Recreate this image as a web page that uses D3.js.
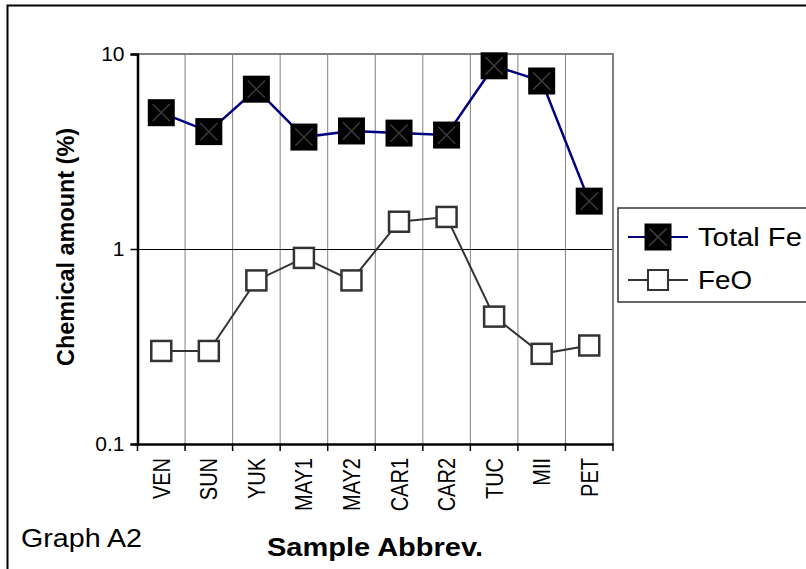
<!DOCTYPE html>
<html>
<head>
<meta charset="utf-8">
<script src="https://cdn.jsdelivr.net/npm/d3@7"></script>
<style>
    body { margin: 0; background: #fff; }
    text { font-family: Arial, "Liberation Sans", sans-serif; }
</style>
</head>
<body>
<div id="chart-view"></div>
<script>
const samples = ["VEN", "SUN", "YUK", "MAY1", "MAY2", "CAR1", "CAR2", "TUC", "MII", "PET"];
const totalFe = [5.0, 4.0, 6.6, 3.75, 4.03, 3.93, 3.84, 8.7, 7.27, 1.76];
const feO = [0.30, 0.30, 0.69, 0.90, 0.69, 1.38, 1.46, 0.45, 0.29, 0.32];
const yTicks = [0.1, 1, 10];
const yTickLabels = ["0.1", "1", "10"];

const width = 806, height = 569;
const plot = { left: 137.5, right: 613, top: 54, bottom: 444 };

let svg = d3.select("#chart-view")
            .append("svg")
            .attr("width", width)
            .attr("height", height);

// outer frame
svg.append("rect")
    .attr("x", 7.5).attr("y", 5.5)
    .attr("width", 820).attr("height", 600)
    .attr("fill", "#fff")
    .attr("stroke", "#000")
    .attr("stroke-width", 2);

let x = d3.scaleBand()
            .domain(samples)
            .range([plot.left, plot.right]);

let y = d3.scaleLog()
            .domain([0.1, 10])
            .range([plot.bottom, plot.top]);

// vertical grid lines between categories
svg.append("g")
    .selectAll("line")
    .data(samples.slice(1))
    .enter()
    .append("line")
    .attr("x1", (d) => x(d)).attr("x2", (d) => x(d))
    .attr("y1", plot.top).attr("y2", plot.bottom)
    .attr("stroke", "#808080")
    .attr("stroke-width", 1);

// horizontal grid at 1
svg.append("line")
    .attr("x1", plot.left).attr("x2", plot.right)
    .attr("y1", Math.round(y(1)) + 0.5).attr("y2", Math.round(y(1)) + 0.5)
    .attr("stroke", "#000")
    .attr("stroke-width", 1.2);

// plot area border top / right
svg.append("path")
    .attr("d", `M${plot.left},${plot.top}H${plot.right}V${plot.bottom}`)
    .attr("fill", "none")
    .attr("stroke", "#808080")
    .attr("stroke-width", 2);

// y axis
let yAxis = d3.axisLeft(y)
                .tickValues(yTicks)
                .tickFormat((d, i) => yTickLabels[i])
                .tickSize(7)
                .tickPadding(6);

let yg = svg.append("g")
            .attr("transform", `translate(${plot.left},0)`)
            .call(yAxis);
yg.select(".domain").attr("stroke", "#000").attr("stroke-width", 2.5);
yg.selectAll(".tick line").attr("stroke", "#000").attr("stroke-width", 1.5);
yg.selectAll(".tick text")
    .attr("font-size", 21)
    .attr("fill", "#000");

// x axis
let xAxis = d3.axisBottom(x)
                .tickSize(0)
                .tickSizeOuter(0);

let xg = svg.append("g")
            .attr("transform", `translate(0,${plot.bottom})`)
            .call(xAxis);
xg.select(".domain").attr("stroke", "#000").attr("stroke-width", 2.5);
xg.selectAll(".tick text")
    .attr("font-size", 20)
    .attr("fill", "#000")
    .attr("text-anchor", "end")
    .attr("transform", "rotate(-90) scale(1,1.22)")
    .attr("x", -14)
    .attr("y", 0)
    .attr("dy", "0.35em");

// x tick marks at category boundaries
svg.append("g")
    .selectAll("line")
    .data(samples.concat(["end"]))
    .enter()
    .append("line")
    .attr("x1", (d) => d === "end" ? plot.right : x(d))
    .attr("x2", (d) => d === "end" ? plot.right : x(d))
    .attr("y1", plot.bottom).attr("y2", plot.bottom + 7)
    .attr("stroke", "#000")
    .attr("stroke-width", 1.5);

let cx = (d, i) => x(samples[i]) + x.bandwidth() / 2;

let line = d3.line()
                .x((d, i) => x(samples[i]) + x.bandwidth() / 2)
                .y((d) => y(d));

// FeO series
svg.append("path")
    .datum(feO)
    .attr("d", line)
    .attr("fill", "none")
    .attr("stroke", "#333")
    .attr("stroke-width", 2);

svg.append("g")
    .selectAll("rect")
    .data(feO)
    .enter()
    .append("rect")
    .attr("x", (d, i) => cx(d, i) - 10)
    .attr("y", (d) => y(d) - 10)
    .attr("width", 20).attr("height", 20)
    .attr("fill", "#fff")
    .attr("stroke", "#333")
    .attr("stroke-width", 2.5);

// Total Fe series
svg.append("path")
    .datum(totalFe)
    .attr("d", line)
    .attr("fill", "none")
    .attr("stroke", "#000080")
    .attr("stroke-width", 2.5);

function crossMarker(g, px, py, s) {
    g.append("rect")
        .attr("x", px - s / 2).attr("y", py - s / 2)
        .attr("width", s).attr("height", s)
        .attr("fill", "#000");
    g.append("path")
        .attr("d", `M${px - s * 0.32},${py - s * 0.32}L${px + s * 0.32},${py + s * 0.32}M${px + s * 0.32},${py - s * 0.32}L${px - s * 0.32},${py + s * 0.32}`)
        .attr("stroke", "#3a3a3a")
        .attr("stroke-width", 1.5);
}

let tfMarks = svg.append("g");
totalFe.forEach((d, i) => crossMarker(tfMarks, cx(d, i), y(d), 27));

// legend
let legend = svg.append("g");
legend.append("rect")
    .attr("x", 618).attr("y", 208)
    .attr("width", 200).attr("height", 94)
    .attr("fill", "#fff")
    .attr("stroke", "#333")
    .attr("stroke-width", 1.5);

legend.append("line")
    .attr("x1", 628).attr("x2", 688)
    .attr("y1", 237).attr("y2", 237)
    .attr("stroke", "#000080").attr("stroke-width", 2);
crossMarker(legend, 658, 237, 27);
legend.append("text")
    .attr("x", 698).attr("y", 246)
    .attr("font-size", 25)
    .attr("textLength", 104)
    .attr("lengthAdjust", "spacingAndGlyphs")
    .text("Total Fe");

legend.append("line")
    .attr("x1", 628).attr("x2", 688)
    .attr("y1", 280).attr("y2", 280)
    .attr("stroke", "#333").attr("stroke-width", 2);
legend.append("rect")
    .attr("x", 648).attr("y", 270)
    .attr("width", 20).attr("height", 20)
    .attr("fill", "#fff")
    .attr("stroke", "#333")
    .attr("stroke-width", 2);
legend.append("text")
    .attr("x", 698).attr("y", 289)
    .attr("font-size", 25)
    .attr("textLength", 54)
    .attr("lengthAdjust", "spacingAndGlyphs")
    .text("FeO");

// titles
svg.append("text")
    .attr("transform", "translate(74,247) rotate(-90)")
    .attr("text-anchor", "middle")
    .attr("font-size", 23)
    .attr("font-weight", "bold")
    .attr("textLength", 238)
    .attr("lengthAdjust", "spacingAndGlyphs")
    .text("Chemical amount (%)");

svg.append("text")
    .attr("x", 375).attr("y", 556)
    .attr("text-anchor", "middle")
    .attr("font-size", 25)
    .attr("font-weight", "bold")
    .attr("textLength", 216)
    .attr("lengthAdjust", "spacingAndGlyphs")
    .text("Sample Abbrev.");

svg.append("text")
    .attr("x", 21).attr("y", 547)
    .attr("font-size", 26)
    .attr("textLength", 121)
    .attr("lengthAdjust", "spacingAndGlyphs")
    .text("Graph A2");
</script>
</body>
</html>
